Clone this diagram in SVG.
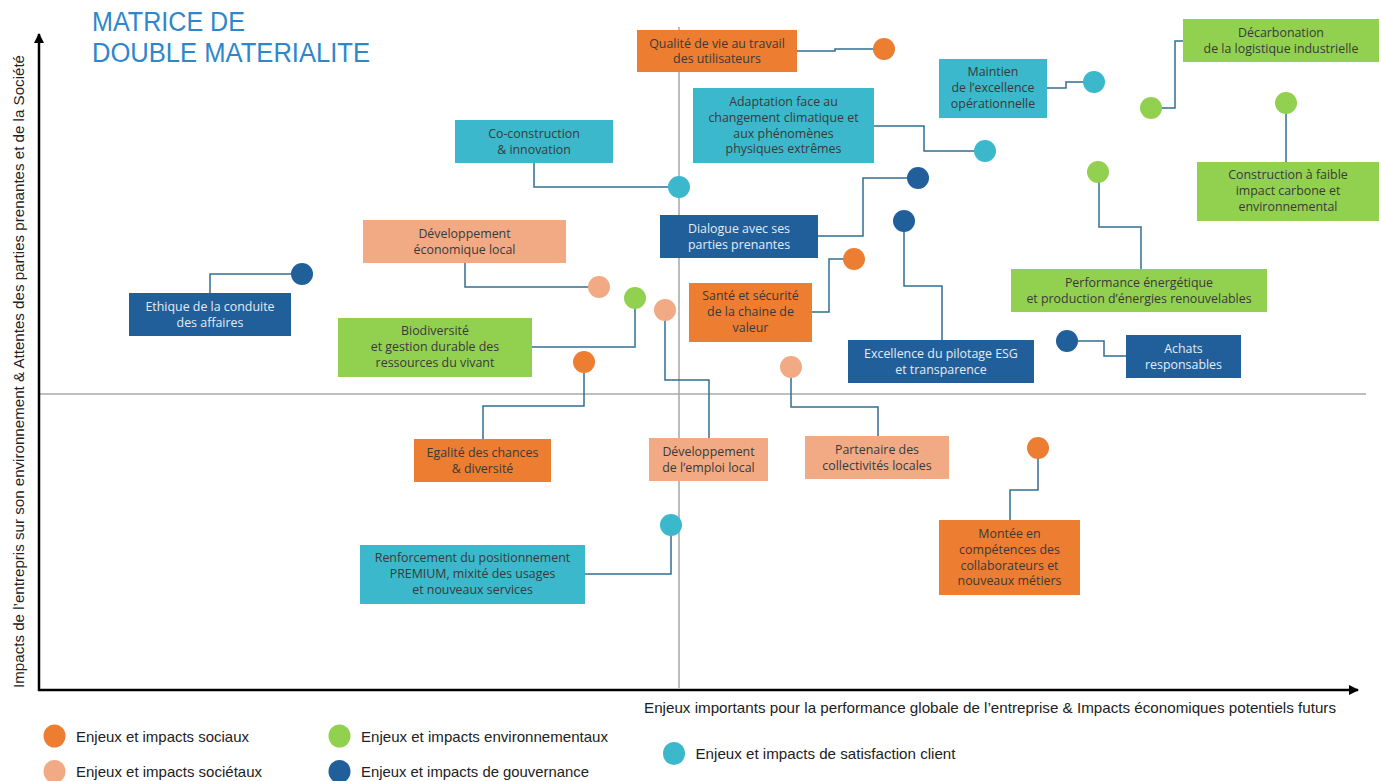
<svg xmlns="http://www.w3.org/2000/svg" width="1381" height="781" viewBox="0 0 1381 781">
<defs>
<style>
.or{fill:#ED7D31}.sa{fill:#F2AA85}.gr{fill:#92D050}.db{fill:#215F9A}.cy{fill:#3CB8CD}
.t{font-family:"Open Sans","DejaVu Sans",sans-serif;font-size:12.4px;text-anchor:middle;fill:#3a3a3a}
.tl{font-family:"Open Sans","DejaVu Sans",sans-serif;font-size:12.4px;text-anchor:middle;fill:#e3ecf5}
.c{fill:none;stroke:#326F92;stroke-width:1.5}
.ax{stroke:#000;stroke-width:2.5;fill:none}
.lg{font-family:"Liberation Sans",Arial,sans-serif;font-size:14.5px;fill:#222}
.ti{font-family:"Liberation Sans",Arial,sans-serif;font-size:27px;fill:#2E87C9}
</style>
<marker id="ah" viewBox="0 0 10 10" refX="9" refY="5" markerWidth="4" markerHeight="4" orient="auto" markerUnits="strokeWidth">
<path d="M0,0 L10,5 L0,10 z" fill="#000"/>
</marker>
</defs>
<rect width="1381" height="781" fill="#fff"/>
<g id="title">
<text class="ti" x="92" y="31" textLength="153" lengthAdjust="spacingAndGlyphs">MATRICE DE</text>
<text class="ti" x="92" y="62" textLength="278" lengthAdjust="spacingAndGlyphs">DOUBLE MATERIALITE</text>
</g>
<g id="grid">
<line x1="39" y1="394" x2="1366" y2="394" stroke="#BFBFBF" stroke-width="2"/>
<line x1="679" y1="27" x2="679" y2="688" stroke="#A6A6A6" stroke-width="1.5"/>
</g>
<g id="axes">
<line class="ax" x1="39" y1="691" x2="39" y2="34" marker-end="url(#ah)"/>
<line class="ax" x1="38" y1="690" x2="1358" y2="690" marker-end="url(#ah)"/>
<text transform="translate(24,371.5) rotate(-90)" font-family="'Liberation Sans',Arial,sans-serif" font-size="14" fill="#222" text-anchor="middle" textLength="633" lengthAdjust="spacingAndGlyphs">Impacts de l’entrepris sur son environnement &amp; Attentes des parties prenantes et de la Société</text>
<text x="644" y="713" class="lg" font-size="14" textLength="692" lengthAdjust="spacingAndGlyphs">Enjeux importants pour la performance globale de l’entreprise &amp; Impacts économiques potentiels futurs</text>
</g>
<g id="connectors">
<polyline class="c" points="797,51 835,51 835,49 884,49"/>
<polyline class="c" points="534,163 534,187 679,187"/>
<polyline class="c" points="874,126 924,126 924,151 985,151"/>
<polyline class="c" points="1047,88 1066,88 1066,82 1094,82"/>
<polyline class="c" points="1183,41 1175,41 1175,108 1151,108"/>
<polyline class="c" points="1286,103 1286,162"/>
<polyline class="c" points="1141,269 1141,227 1099,227 1099,172"/>
<polyline class="c" points="818,236 863,236 863,178 918,178"/>
<polyline class="c" points="904,221 904,286 942,286 942,340"/>
<polyline class="c" points="1067,341 1104,341 1104,356 1126,356"/>
<polyline class="c" points="812,312 829,312 829,259 854,259"/>
<polyline class="c" points="465,263 465,287 599,287"/>
<polyline class="c" points="532,347 635,347 635,298"/>
<polyline class="c" points="665,310 665,380 709,380 709,438"/>
<polyline class="c" points="584,362 584,406 483,406 483,439"/>
<polyline class="c" points="791,367 791,407 878,407 878,436"/>
<polyline class="c" points="1038,448 1038,490 1010,490 1010,520"/>
<polyline class="c" points="671,525 671,574 585,574"/>
<polyline class="c" points="302,274 210,274 210,293"/>
</g>
<g id="n-qvt"><rect class="or" x="637" y="30" width="160" height="42"/><text class="t" x="717" y="47.5">Qualité de vie au travail</text><text class="t" x="717" y="63.3">des utilisateurs</text><circle class="or" cx="884" cy="49" r="11"/></g>
<g id="n-coconstruction"><rect class="cy" x="455" y="120" width="158" height="43"/><text class="t" x="534" y="138">Co-construction</text><text class="t" x="534" y="153.8">&amp; innovation</text><circle class="cy" cx="679" cy="187" r="11"/></g>
<g id="n-adaptation"><rect class="cy" x="693" y="88" width="181" height="75"/><text class="t" x="783.5" y="106">Adaptation face au</text><text class="t" x="783.5" y="121.8">changement climatique et</text><text class="t" x="783.5" y="137.6">aux phénomènes</text><text class="t" x="783.5" y="153.4">physiques extrêmes</text><circle class="cy" cx="985" cy="151" r="11"/></g>
<g id="n-maintien"><rect class="cy" x="939" y="59" width="108" height="59"/><text class="t" x="993" y="76.3">Maintien</text><text class="t" x="993" y="92.1">de l’excellence</text><text class="t" x="993" y="107.9">opérationnelle</text><circle class="cy" cx="1094" cy="82" r="11"/></g>
<g id="n-decarbonation"><rect class="gr" x="1183" y="19" width="196" height="43"/><text class="t" x="1281" y="37">Décarbonation</text><text class="t" x="1281" y="52.8">de la logistique industrielle</text><circle class="gr" cx="1151" cy="108" r="11"/></g>
<g id="n-construction"><rect class="gr" x="1197" y="162" width="182" height="59"/><text class="t" x="1288" y="179.3">Construction à faible</text><text class="t" x="1288" y="195.1">impact carbone et</text><text class="t" x="1288" y="210.9">environnemental</text><circle class="gr" cx="1286" cy="103" r="11"/></g>
<g id="n-performance"><rect class="gr" x="1011" y="269" width="256" height="43"/><text class="t" x="1139" y="287">Performance énergétique</text><text class="t" x="1139" y="302.8">et production d’énergies renouvelables</text><circle class="gr" cx="1098" cy="172" r="11"/></g>
<g id="n-dialogue"><rect class="db" x="660" y="215" width="158" height="43"/><text class="tl" x="739" y="233">Dialogue avec ses</text><text class="tl" x="739" y="248.8">parties prenantes</text><circle class="db" cx="918" cy="178" r="11"/></g>
<g id="n-esg"><rect class="db" x="848" y="340" width="186" height="43"/><text class="tl" x="941" y="358">Excellence du pilotage ESG</text><text class="tl" x="941" y="373.8">et transparence</text><circle class="db" cx="904" cy="221" r="11"/></g>
<g id="n-achats"><rect class="db" x="1126" y="335" width="115" height="43"/><text class="tl" x="1183.5" y="353">Achats</text><text class="tl" x="1183.5" y="368.8">responsables</text><circle class="db" cx="1067" cy="341" r="11"/></g>
<g id="n-sante"><rect class="or" x="689" y="283" width="123" height="59"/><text class="t" x="750.5" y="300.3">Santé et sécurité</text><text class="t" x="750.5" y="316.1">de la chaine de</text><text class="t" x="750.5" y="331.9">valeur</text><circle class="or" cx="854" cy="259" r="11"/></g>
<g id="n-deveco"><rect class="sa" x="363" y="220" width="203" height="43"/><text class="t" x="464.5" y="238">Développement</text><text class="t" x="464.5" y="253.8">économique local</text><circle class="sa" cx="599" cy="287" r="11"/></g>
<g id="n-biodiversite"><rect class="gr" x="338" y="318" width="194" height="59"/><text class="t" x="435" y="335.3">Biodiversité</text><text class="t" x="435" y="351.1">et gestion durable des</text><text class="t" x="435" y="366.9">ressources du vivant</text><circle class="gr" cx="635" cy="298" r="11"/></g>
<g id="n-devemploi"><rect class="sa" x="649" y="438" width="119" height="43"/><text class="t" x="708.5" y="456">Développement</text><text class="t" x="708.5" y="471.8">de l’emploi local</text><circle class="sa" cx="665" cy="310" r="11"/></g>
<g id="n-egalite"><rect class="or" x="414" y="439" width="137" height="43"/><text class="t" x="482.5" y="457">Egalité des chances</text><text class="t" x="482.5" y="472.8">&amp; diversité</text><circle class="or" cx="584" cy="362" r="11"/></g>
<g id="n-partenaire"><rect class="sa" x="805" y="436" width="144" height="43"/><text class="t" x="877" y="454">Partenaire des</text><text class="t" x="877" y="469.8">collectivités locales</text><circle class="sa" cx="791" cy="367" r="11"/></g>
<g id="n-montee"><rect class="or" x="939" y="520" width="141" height="75"/><text class="t" x="1009.5" y="538">Montée en</text><text class="t" x="1009.5" y="553.8">compétences des</text><text class="t" x="1009.5" y="569.6">collaborateurs et</text><text class="t" x="1009.5" y="585.4">nouveaux métiers</text><circle class="or" cx="1038" cy="448" r="11"/></g>
<g id="n-renforcement"><rect class="cy" x="360" y="545" width="225" height="59"/><text class="t" x="472.5" y="562.3">Renforcement du positionnement</text><text class="t" x="472.5" y="578.1">PREMIUM, mixité des usages</text><text class="t" x="472.5" y="593.9">et nouveaux services</text><circle class="cy" cx="671" cy="525" r="11"/></g>
<g id="n-ethique"><rect class="db" x="129" y="293" width="162" height="43"/><text class="tl" x="210" y="311">Ethique de la conduite</text><text class="tl" x="210" y="326.8">des affaires</text><circle class="db" cx="302" cy="274" r="11"/></g>
<g id="legend">
<ellipse class="or" cx="54.5" cy="736" rx="11" ry="11.5"/><text class="lg" x="76" y="741.5" textLength="173" lengthAdjust="spacingAndGlyphs">Enjeux et impacts sociaux</text>
<ellipse class="sa" cx="54.5" cy="771.5" rx="11" ry="11.5"/><text class="lg" x="76" y="776.5" textLength="186" lengthAdjust="spacingAndGlyphs">Enjeux et impacts sociétaux</text>
<ellipse class="gr" cx="339.5" cy="736" rx="11" ry="11.5"/><text class="lg" x="361" y="741.5" textLength="247" lengthAdjust="spacingAndGlyphs">Enjeux et impacts environnementaux</text>
<ellipse class="db" cx="339.5" cy="771.5" rx="11" ry="11.5"/><text class="lg" x="361" y="776.5" textLength="228" lengthAdjust="spacingAndGlyphs">Enjeux et impacts de gouvernance</text>
<ellipse class="cy" cx="674" cy="753.5" rx="11" ry="11.5"/><text class="lg" x="695.5" y="759" textLength="260" lengthAdjust="spacingAndGlyphs">Enjeux et impacts de satisfaction client</text>
</g>
</svg>
